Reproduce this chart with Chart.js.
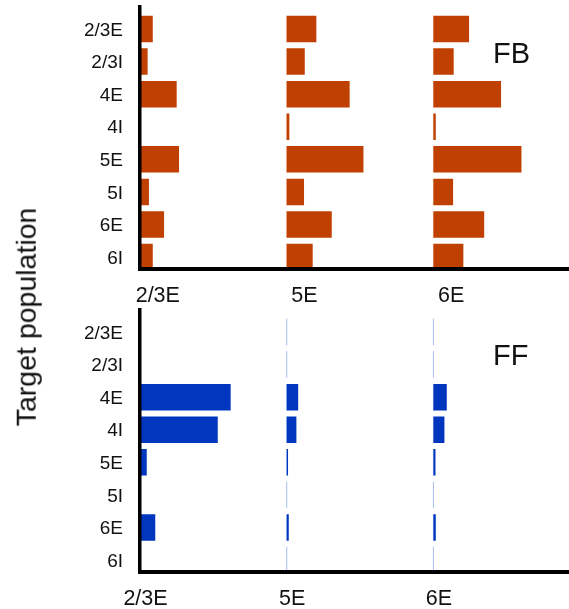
<!DOCTYPE html>
<html>
<head>
<meta charset="utf-8">
<script src="https://cdn.jsdelivr.net/npm/chart.js@4/dist/chart.umd.min.js"></script>
<style>
  html, body { margin: 0; padding: 0; background: #fff; }
  #wrap { position: relative; width: 569px; height: 609px; overflow: hidden;
          font-family: "Liberation Sans", Arial, Helvetica, sans-serif; color: #111; }
  .panel { position: absolute; left: 0; width: 569px; height: 306px; }
  #fbBox { top: 0; }
  #ffBox { top: 303px; }
  .tag { position: absolute; left: 493px; font-size: 29px; line-height: 29px; }
  #fbTag { top: 38.5px; }
  #ffTag { top: 340.5px; }
  #ylab { position: absolute; left: 25.7px; top: 316.5px; white-space: nowrap;
          font-size: 28.5px; line-height: 28.5px;
          transform: translate(-50%, -50%) rotate(-90deg); }
</style>
</head>
<body>
<div id="wrap">
  <div class="panel" id="fbBox"><canvas id="fb" width="569" height="306"></canvas></div>
  <div class="panel" id="ffBox"><canvas id="ff" width="569" height="306"></canvas></div>
  <div class="tag" id="fbTag">FB</div>
  <div class="tag" id="ffTag">FF</div>
  <div id="ylab">Target population</div>
</div>
<script>
// Target populations (rows) and source populations (column groups)
const targets = ['2/3E', '2/3I', '4E', '4I', '5E', '5I', '6E', '6I'];
const sources = ['2/3E', '5E', '6E'];

// Feedback (FB) projection strength, one list per source column
const fbFrom23E = [8.7, 5.2, 25.0, 0, 26.6, 6.1, 16.4, 8.7];
const fbFrom5E  = [20.2, 12.3, 42.9, 1.8, 52.3, 11.8, 30.7, 17.7];
const fbFrom6E  = [24.3, 13.8, 46.1, 1.6, 60.0, 13.4, 34.6, 20.4];

// Feedforward (FF) projection strength, one list per source column
const ffFrom23E = [0, 0, 61.8, 53.0, 4.6, 0, 10.4, 0];
const ffFrom5E  = [0, 0, 7.8, 6.6, 0.9, 0, 1.4, 0];
const ffFrom6E  = [0, 0, 9.1, 7.5, 1.4, 0, 1.6, 0];

const COL = 100;          // x-units between neighbouring source columns
const FONT = '"Liberation Sans", Arial, Helvetica, sans-serif';
Chart.defaults.font.family = FONT;

function makePanel(id, series, color, hairColor, labelOffset) {
  const datasets = series.map((vals, c) => ({
    data: vals.map((v, i) => ({ x: [c * COL, c * COL + v], y: i })),
    backgroundColor: color,
    borderWidth: 0
  }));
  // thin baseline ticks marking every row slot of each column
  sources.forEach((s, c) => {
    datasets.push({
      data: targets.map((t, i) => ({ x: [c * COL - 0.35, c * COL + 0.35], y: i })),
      backgroundColor: hairColor,
      borderWidth: 0
    });
  });

  return new Chart(document.getElementById(id), {
    type: 'bar',
    data: { datasets },
    options: {
      indexAxis: 'y',
      responsive: false,
      animation: false,
      devicePixelRatio: 1,
      layout: { padding: { top: 6.8, left: 0, right: 0, bottom: 0 } },
      datasets: { bar: { grouped: false, barPercentage: 0.813, categoryPercentage: 1 } },
      plugins: { legend: { display: false }, tooltip: { enabled: false } },
      scales: {
        y: {
          type: 'linear', reverse: true, min: -0.68, max: 7.36, offset: false,
          afterBuildTicks: s => { s.ticks = targets.map((t, i) => ({ value: i })); },
          afterFit: s => { s.width = 140; s.paddingTop = 0; s.paddingBottom = 0; },
          ticks: { callback: v => targets[v], font: { size: 19 }, color: '#111',
                   padding: 17, labelOffset: 1.5, autoSkip: false },
          grid: { display: false, drawTicks: false, offset: false },
          border: { display: true, color: '#000', width: 3.5, z: 1 }
        },
        x: {
          type: 'linear', min: 0, max: 292.4, offset: false,
          afterBuildTicks: s => { s.ticks = sources.map((t, i) => ({ value: i * COL })); },
          afterFit: s => { s.height = 37.2; s.paddingLeft = 0; s.paddingRight = 0; },
          ticks: { callback: (v, i) => sources[i], font: { size: 21.5 }, color: '#111',
                   padding: 14.3, labelOffset: labelOffset, maxRotation: 0, autoSkip: false },
          grid: { display: false, drawTicks: false },
          border: { display: true, color: '#000', width: 4, z: 1 }
        }
      }
    }
  });
}

makePanel('fb', [fbFrom23E, fbFrom5E, fbFrom6E], '#BF4000', 'rgba(230,170,140,0.8)', 17.8);
makePanel('ff', [ffFrom23E, ffFrom5E, ffFrom6E], '#0037BE', 'rgba(160,185,240,0.9)', 5.5);
</script>
</body>
</html>
